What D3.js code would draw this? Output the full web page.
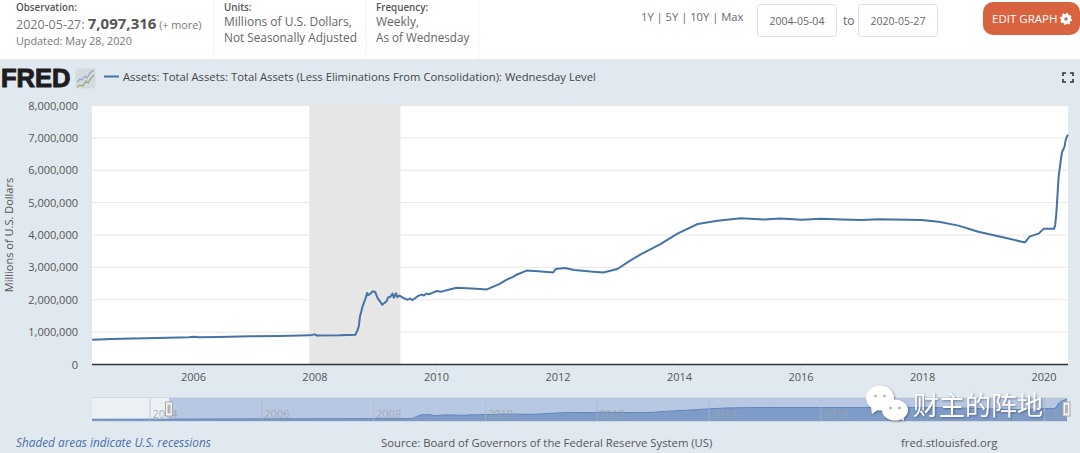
<!DOCTYPE html>
<html lang="en">
<head>
<meta charset="utf-8">
<script src="https://cdn.jsdelivr.net/npm/d3@7"></script>
<style>
	html, body { margin: 0; padding: 0; background: #fff; overflow: hidden; }
	svg { display: block; font-family: "Open Sans", sans-serif; }
	.axis path { display: none; }
	.axis text { font-family: "Open Sans", sans-serif; font-size: 11px; fill: #555; }
	.soft { filter: drop-shadow(1px 1px 1px rgba(40, 50, 70, 0.5)); }
</style>
</head>
<body>
<svg id="chart" width="1080" height="453"></svg>
<script>
	// In millions of dollars.
	const seriesDates = [
		"2002-12-18", "2003-06-04", "2003-12-03", "2004-05-05", "2004-09-01", "2005-01-05", "2005-06-01", "2005-12-07",
		"2006-01-04", "2006-02-08", "2006-06-07", "2006-12-06", "2007-06-06", "2007-12-05", "2008-01-02", "2008-01-16",
		"2008-06-04", "2008-09-03", "2008-09-17",
		"2008-09-24", "2008-10-01", "2008-10-08", "2008-10-15", "2008-10-29", "2008-11-05", "2008-11-12", "2008-11-19",
		"2008-12-03", "2008-12-17", "2008-12-31", "2009-01-14", "2009-01-28", "2009-02-11", "2009-02-25", "2009-03-11",
		"2009-03-18", "2009-04-01", "2009-04-15", "2009-04-22", "2009-05-06", "2009-05-13", "2009-05-27", "2009-06-17",
		"2009-07-15", "2009-07-29", "2009-08-12", "2009-08-26", "2009-09-16", "2009-10-07", "2009-10-21", "2009-11-04",
		"2009-11-18", "2009-12-09", "2010-01-06", "2010-02-03", "2010-03-17", "2010-05-05", "2010-08-04", "2010-11-03",
		"2011-01-19", "2011-03-02", "2011-04-06", "2011-05-04", "2011-06-29", "2011-09-07", "2011-12-07", "2011-12-21",
		"2012-02-15", "2012-04-11", "2012-07-18", "2012-10-03", "2012-12-26", "2013-03-13", "2013-05-15", "2013-09-11",
		"2013-12-25", "2014-04-23", "2014-08-20", "2015-01-07", "2015-05-27", "2015-09-02", "2016-01-06", "2016-05-04",
		"2016-09-07", "2017-01-04", "2017-04-12", "2017-12-27", "2018-04-11", "2018-08-08", "2018-12-05",
		"2019-05-08", "2019-09-11", "2019-10-09", "2019-12-04", "2020-01-01", "2020-03-04",
		"2020-03-11", "2020-03-18", "2020-03-25", "2020-04-01", "2020-04-08", "2020-04-15",
		"2020-04-22", "2020-05-06", "2020-05-13", "2020-05-20", "2020-05-27"
	];
	const seriesValues = [
		720000, 735000, 750000, 765000, 785000, 800000, 820000, 845000,
		860000, 840000, 850000, 870000, 880000, 900000, 930000, 895000,
		900000, 920000, 1070000,
		1190000, 1490000, 1620000, 1770000, 1970000, 2070000, 2210000, 2140000,
		2190000, 2260000, 2240000, 2060000, 1960000, 1850000, 1900000, 1960000,
		2070000, 2090000, 2190000, 2060000, 2200000, 2080000, 2130000, 2060000,
		2000000, 2040000, 1990000, 2040000, 2120000, 2160000, 2130000, 2190000,
		2170000, 2210000, 2270000, 2250000, 2310000, 2370000, 2350000, 2320000,
		2490000, 2620000, 2700000, 2780000, 2900000, 2880000, 2840000, 2950000,
		2980000, 2920000, 2870000, 2840000, 2950000, 3210000, 3400000, 3720000,
		4050000, 4340000, 4440000, 4520000, 4480000, 4510000, 4470000, 4500000,
		4480000, 4460000, 4490000, 4460000, 4410000, 4290000, 4100000,
		3920000, 3770000, 3950000, 4050000, 4190000, 4190000,
		4310000, 4670000, 5250000, 5810000, 6080000, 6370000,
		6570000, 6720000, 6930000, 7040000, 7097316
	];
	const recessionStart = "2007-12-01";
	const recessionEnd = "2009-06-01";
	const yTicks = [0, 1000000, 2000000, 3000000, 4000000, 5000000, 6000000, 7000000, 8000000];
	const xTickYears = [2006, 2008, 2010, 2012, 2014, 2016, 2018, 2020];
	const navTickYears = [2004, 2006, 2008, 2010, 2012, 2014, 2016, 2018, 2020];
	const navLabelYears = [2004, 2006, 2008, 2010, 2012, 2014, 2016, 2020]; // 2018 sits behind the watermark

	const points = seriesDates.map((d, i) => ({ date: new Date(d), value: seriesValues[i] }));
	const shown = points.filter(d => d.date >= new Date("2004-05-04"));

	const svg = d3.select("#chart");

	// Header strip.
	function label(x, y, text, size, color, weight) {
		return svg.append("text").attr("x", x).attr("y", y).text(text)
			.attr("font-size", size).attr("fill", color).attr("font-weight", weight || 400);
	}
	svg.selectAll("line.sep")
		.data([214, 366, 479])
		.join("line")
		.attr("x1", d => d).attr("x2", d => d).attr("y1", 0).attr("y2", 60)
		.attr("stroke", "#eef2f6");

	label(16, 11, "Observation:", 9.8, "#555", 600);
	const obs = label(16, 29, "2020-05-27: ", 12.5, "#777");
	obs.append("tspan").text("7,097,316").attr("font-size", 15).attr("font-weight", 700).attr("fill", "#555");
	obs.append("tspan").text(" (+ more)").attr("font-size", 10.8);
	label(16, 45, "Updated: May 28, 2020", 10.8, "#777");
	label(224, 11, "Units:", 9.8, "#555", 600);
	label(224, 26, "Millions of U.S. Dollars,", 12, "#666");
	label(224, 42, "Not Seasonally Adjusted", 11.8, "#666");
	label(376, 11, "Frequency:", 9.8, "#555", 600);
	label(376, 26, "Weekly,", 12, "#666");
	label(376, 42, "As of Wednesday", 11.7, "#666");
	label(641, 21, "1Y | 5Y | 10Y | Max", 11.2, "#667");
	label(843, 25, "to", 12, "#667");

	svg.selectAll("rect.date")
		.data([{ x: 757.5, t: "2004-05-04" }, { x: 858.5, t: "2020-05-27" }])
		.join(enter => {
			const g = enter.append("g");
			g.append("rect").attr("x", d => d.x).attr("y", 4.5).attr("width", 79).attr("height", 32).attr("rx", 3)
				.attr("fill", "#fff").attr("stroke", "#dde0e3");
			g.append("text").attr("x", d => d.x + 39.5).attr("y", 25).attr("text-anchor", "middle")
				.attr("font-size", 10.5).attr("fill", "#666").text(d => d.t);
			return g;
		});

	svg.append("rect").attr("x", 983).attr("y", 2).attr("width", 97).attr("height", 33).attr("rx", 10).attr("fill", "#d9633f");
	label(992, 23, "EDIT GRAPH", 11.5, "#fff");
	svg.append("circle").attr("cx", 1066).attr("cy", 19).attr("r", 3.4)
		.attr("fill", "none").attr("stroke", "#fff").attr("stroke-width", 3.4);
	svg.append("circle").attr("cx", 1066).attr("cy", 19).attr("r", 5.2)
		.attr("fill", "none").attr("stroke", "#fff").attr("stroke-width", 1.6).attr("stroke-dasharray", "2 2");

	// Chart panel.
	svg.append("rect").attr("y", 59).attr("width", 1080).attr("height", 394).attr("fill", "#e1e9f0");

	svg.append("text").attr("x", 1).attr("y", 87).text("FRED")
		.attr("font-family", "Liberation Sans").attr("font-weight", 700).attr("font-size", 25.5)
		.attr("fill", "#1d1d1f").attr("stroke", "#1d1d1f").attr("stroke-width", 1);
	svg.append("rect").attr("x", 75.5).attr("y", 68.5).attr("width", 20).attr("height", 20).attr("rx", 2).attr("fill", "#d6dadc");
	const iconA = [[77, 82], [80, 79], [82, 80], [85, 76], [87, 78], [90, 73], [94, 70]];
	const iconB = [[77, 87], [80, 85], [83, 86], [86, 81], [88, 83], [91, 78], [94, 75]];
	svg.append("path").attr("d", d3.line()(iconA)).attr("fill", "none").attr("stroke", "#8fa8c8").attr("stroke-width", 1.1);
	svg.append("path").attr("d", d3.line()(iconB)).attr("fill", "none").attr("stroke", "#8aa86e").attr("stroke-width", 1.1);

	svg.append("line").attr("x1", 104).attr("x2", 119).attr("y1", 76.5).attr("y2", 76.5).attr("stroke", "#4572a7").attr("stroke-width", 2);
	label(123, 81, "Assets: Total Assets: Total Assets (Less Eliminations From Consolidation): Wednesday Level", 11.28, "#444");

	// Fullscreen corners.
	const corner = d3.path();
	[[1063, 73, 1, 1], [1073, 73, -1, 1], [1063, 82, 1, -1], [1073, 82, -1, -1]].forEach(([cx, cy, dx, dy]) => {
		corner.moveTo(cx, cy + 3 * dy);
		corner.lineTo(cx, cy);
		corner.lineTo(cx + 3 * dx, cy);
	});
	svg.append("path").attr("d", corner.toString()).attr("fill", "none").attr("stroke", "#333").attr("stroke-width", 1.6);

	// Main plot.
	const margin = { left: 92, right: 1068, top: 105.5, bottom: 364.5 };
	const x = d3.scaleUtc().domain([new Date("2004-05-04"), new Date("2020-05-27")]).range([margin.left, margin.right]);
	const y = d3.scaleLinear().domain([0, 8000000]).range([margin.bottom, margin.top]);

	svg.append("rect").attr("x", margin.left).attr("y", margin.top)
		.attr("width", margin.right - margin.left).attr("height", margin.bottom - margin.top).attr("fill", "#fff");

	svg.append("rect")
		.attr("x", x(new Date(recessionStart))).attr("y", margin.top)
		.attr("width", x(new Date(recessionEnd)) - x(new Date(recessionStart)))
		.attr("height", margin.bottom - margin.top).attr("fill", "#e6e6e6");

	svg.append("g").selectAll("line")
		.data(yTicks.slice(1))
		.join("line")
		.attr("x1", margin.left).attr("x2", margin.right)
		.attr("y1", d => y(d)).attr("y2", d => y(d))
		.attr("stroke", "#e6e6e6");

	const yAxis = d3.axisLeft(y).tickValues(yTicks).tickFormat(d3.format(",")).tickSize(0).tickPadding(14);
	svg.append("g").attr("class", "axis").attr("transform", `translate(${margin.left},0)`).call(yAxis);

	const xAxis = d3.axisBottom(x).tickValues(xTickYears.map(d => new Date(Date.UTC(d, 0, 1))))
		.tickFormat(d3.utcFormat("%Y")).tickSize(10).tickPadding(-1);
	const gx = svg.append("g").attr("class", "axis").attr("transform", `translate(0,${margin.bottom})`).call(xAxis);
	gx.selectAll("line").attr("stroke", "#d5dee6");
	svg.append("line").attr("x1", margin.left).attr("x2", margin.right)
		.attr("y1", margin.bottom).attr("y2", margin.bottom).attr("stroke", "#333").attr("stroke-width", 1.6);

	svg.append("text").attr("transform", "translate(13,235) rotate(-90)").attr("text-anchor", "middle")
		.attr("font-size", 11).attr("fill", "#555").text("Millions of U.S. Dollars");

	const line = d3.line().x(d => x(d.date)).y(d => y(d.value));
	svg.append("path").datum(shown).attr("d", line)
		.attr("fill", "none").attr("stroke", "#4572a7").attr("stroke-width", 2).attr("stroke-linejoin", "round");

	// Navigator.
	const nav = { top: 397.5, bottom: 421.5 };
	const navX = d3.scaleUtc().domain([new Date("2002-12-18"), new Date("2020-05-27")]).range([margin.left, margin.right - 1]);
	const navY = d3.scaleLinear().domain([0, 7700000]).range([nav.bottom, nav.top]);
	const handleLeft = navX(new Date("2004-05-04"));

	svg.append("rect").attr("x", margin.left).attr("y", nav.top).attr("width", margin.right - margin.left - 1)
		.attr("height", nav.bottom - nav.top).attr("fill", "#ebf0f4");
	svg.append("rect").attr("x", handleLeft).attr("y", nav.top).attr("width", margin.right - 1 - handleLeft)
		.attr("height", nav.bottom - nav.top).attr("fill", "#b9c8e2");

	const navArea = d3.area().x(d => navX(d.date)).y0(nav.bottom).y1(d => navY(d.value));
	const navLine = d3.line().x(d => navX(d.date)).y(d => navY(d.value));
	svg.append("path").datum(points).attr("d", navArea).attr("fill", "#7f9cc8");
	svg.append("path").datum(points).attr("d", navLine).attr("fill", "none").attr("stroke", "#5f86bd").attr("stroke-width", 1);

	svg.append("g").selectAll("line")
		.data(navTickYears.map(d => new Date(Date.UTC(d, 0, 1))))
		.join("line")
		.attr("x1", d => navX(d)).attr("x2", d => navX(d)).attr("y1", nav.top).attr("y2", nav.bottom)
		.attr("stroke", "#a9b9d3").attr("stroke-opacity", 0.6);
	svg.append("g").selectAll("text")
		.data(navLabelYears.map(d => new Date(Date.UTC(d, 0, 1))))
		.join("text")
		.attr("x", d => navX(d) + 15).attr("y", 418).attr("text-anchor", "middle")
		.attr("font-size", 11).attr("fill", "#9aa3ad").attr("fill-opacity", 0.85)
		.text(d => d.getUTCFullYear() === 2020 ? "2..." : d.getUTCFullYear());
	svg.append("line").attr("x1", margin.left).attr("x2", margin.right).attr("y1", nav.top).attr("y2", nav.top).attr("stroke", "#d3d8dd");
	svg.append("line").attr("x1", margin.left).attr("x2", margin.right).attr("y1", nav.bottom).attr("y2", nav.bottom).attr("stroke", "#d3d8dd");

	[handleLeft, margin.right - 1.5].forEach(hx => {
		svg.append("rect").attr("x", hx - 3.5).attr("y", 402).attr("width", 7).attr("height", 14)
			.attr("fill", "#f4f4f4").attr("stroke", "#a8a8a8");
		svg.append("rect").attr("x", hx - 1.5).attr("y", 404.5).attr("width", 3).attr("height", 9).attr("fill", "#b5b5b5");
	});

	// Footer.
	label(16, 447, "Shaded areas indicate U.S. recessions", 11.8, "#4a70a8").attr("font-style", "italic");
	label(381, 447, "Source: Board of Governors of the Federal Reserve System (US)", 11.3, "#555");
	label(901, 447, "fred.stlouisfed.org", 11.3, "#555");

	// Watermark over the navigator.
	const mark = svg.append("g").attr("class", "soft");
	const bubbles = [
		{ cx: 880, cy: 398, rx: 14, ry: 12.5, tail: [[871, 407], [872, 414], [879, 409]] },
		{ cx: 895, cy: 410, rx: 13, ry: 10.5, tail: [[899, 418], [904, 421], [903, 415]] }
	];
	bubbles.forEach(b => {
		mark.append("path").attr("d", d3.line()(b.tail)).attr("fill", "#fff");
		mark.append("ellipse").attr("cx", b.cx).attr("cy", b.cy).attr("rx", b.rx).attr("ry", b.ry).attr("fill", "#fff");
		mark.selectAll(null).data([-4.5, 4.5]).join("circle")
			.attr("cx", d => b.cx + d).attr("cy", b.cy - 2).attr("r", 1.3).attr("fill", "#a3a9b1");
	});
	svg.append("text").attr("class", "soft").attr("x", 913).attr("y", 415).text("财主的阵地")
		.attr("font-family", "Noto Sans CJK SC").attr("font-size", 26).attr("fill", "#fff");
</script>
</body>
</html>
